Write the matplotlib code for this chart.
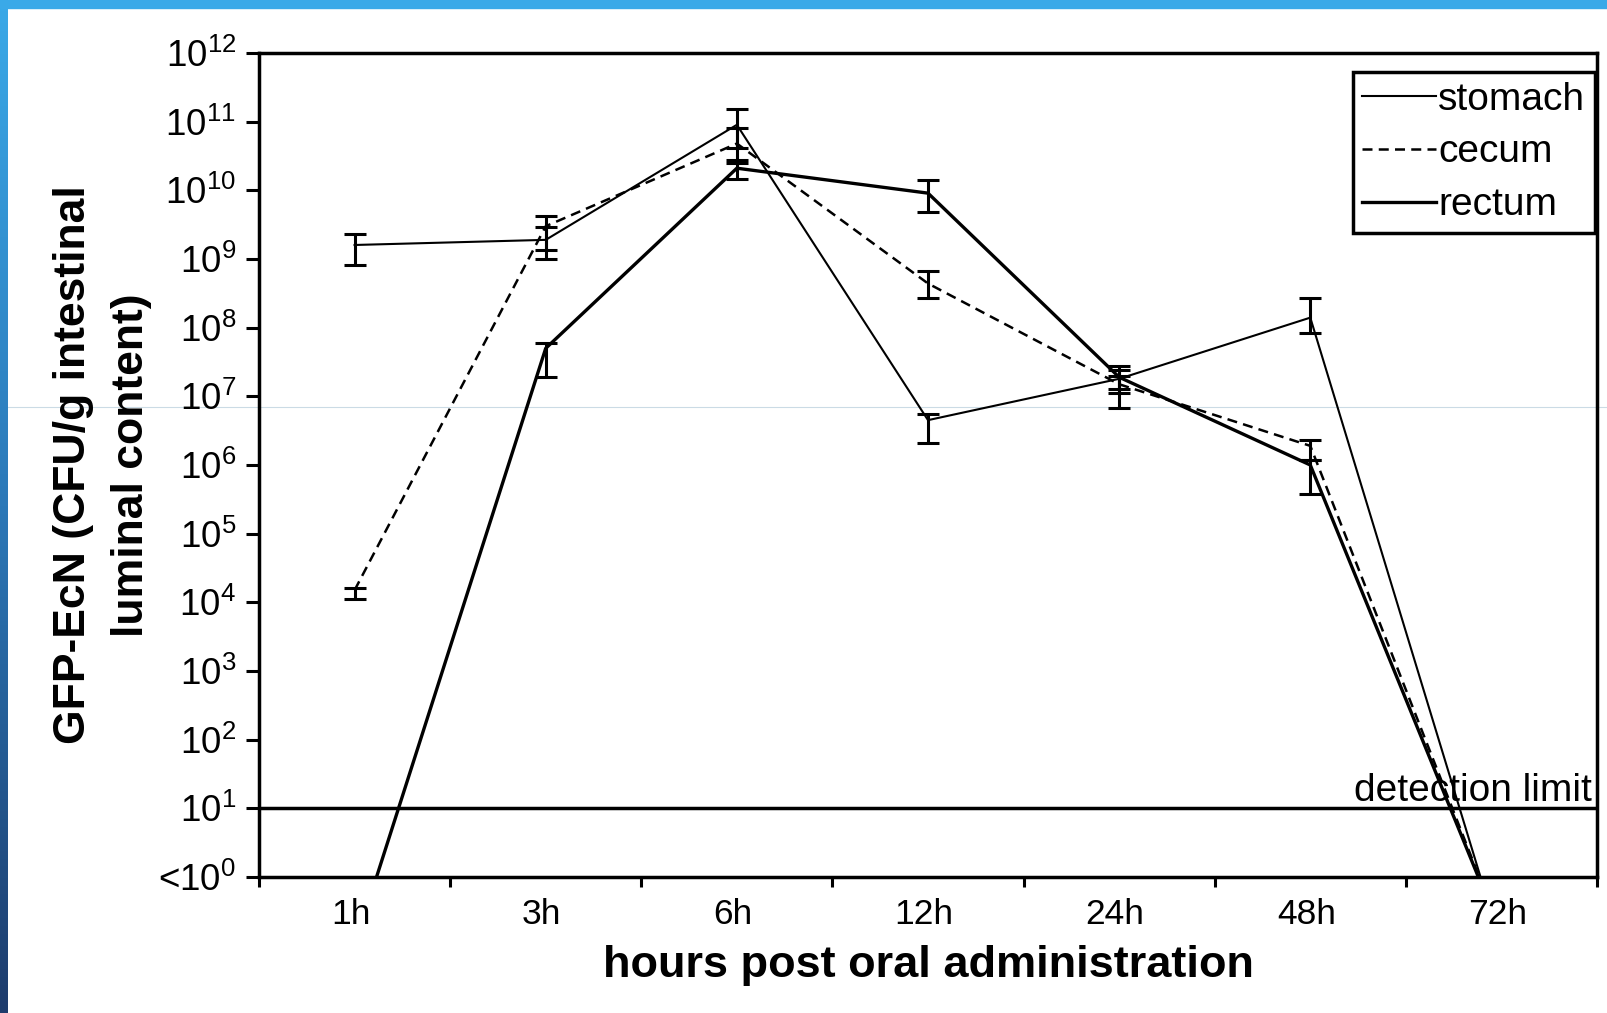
import numpy as np
import matplotlib
matplotlib.use("Agg")
import matplotlib.pyplot as plt
import matplotlib.transforms as mtransforms
from matplotlib.lines import Line2D
from matplotlib.patches import Rectangle
from matplotlib.colors import LinearSegmentedColormap
from matplotlib.ticker import NullLocator

plt.rcParams["font.family"] = ["Liberation Sans", "DejaVu Sans"]
plt.rcParams["mathtext.fontset"] = "custom"
plt.rcParams["mathtext.rm"] = "Liberation Sans"

# data (CFU/g), values below 10^0 are "not detected"
hours = ["1h", "3h", "6h", "12h", "24h", "48h", "72h"]

stomach = [1.6e9, 1.9e9, 9.0e10, 4.5e6, 1.8e7, 1.4e8, 0.1]
stomach_lo = [8.2e8, 1.0e9, 4.1e10, 2.1e6, 1.1e7, 8.3e7, 0.1]
stomach_hi = [2.3e9, 2.9e9, 1.55e11, 5.5e6, 2.75e7, 2.7e8, 0.1]

cecum = [1.5e4, 3.0e9, 4.8e10, 4.4e8, 1.5e7, 1.9e6, 0.15]
cecum_lo = [1.1e4, 1.35e9, 2.5e10, 2.7e8, 6.7e6, 1.2e6, 0.15]
cecum_hi = [1.6e4, 4.2e9, 8.0e10, 6.6e8, 2.0e7, 2.3e6, 0.15]

rectum = [0.1, 5.0e7, 2.1e10, 9.1e9, 1.9e7, 1.0e6, 0.15]
rectum_lo = [0.1, 1.9e7, 1.45e10, 4.8e9, 1.3e7, 3.8e5, 0.15]
rectum_hi = [0.1, 6.0e7, 2.8e10, 1.4e10, 2.4e7, 1.2e6, 0.15]

y_exponents = list(range(13))
y_tick_labels = ["<$\\mathregular{10^{0}}$"] + [
    "$\\mathregular{10^{%d}}$" % e for e in y_exponents[1:]
]
detection_limit = 10

W, H = 1608, 1013
fig = plt.figure(figsize=(W / 100, H / 100), dpi=100)
fig.patch.set_facecolor("white")

# plot area in pixels: left 259, right 1597, top 53, bottom 877
ax = fig.add_axes([259 / W, 1 - 877 / H, 1338 / W, 824 / H])
ax.patch.set_visible(False)

x = np.arange(len(hours)) + 0.5

series = [
    ("stomach", stomach, stomach_lo, stomach_hi, "-", 1.5),
    ("cecum", cecum, cecum_lo, cecum_hi, (0, (4, 2.5)), 1.8),
    ("rectum", rectum, rectum_lo, rectum_hi, "-", 2.4),
]

handles = []
for name, vals, lo, hi, ls, lw in series:
    vals = np.array(vals)
    lo = np.array(lo)
    hi = np.array(hi)
    line, = ax.plot(x, vals, color="black", ls=ls, lw=lw, zorder=3)
    ax.errorbar(x, vals, yerr=[vals - lo, hi - vals], fmt="none",
                ecolor="black", elinewidth=2.2, capsize=8, capthick=2.2,
                zorder=4)
    handles.append(line)

ax.axhline(detection_limit, color="black", lw=2.5, zorder=2)
ax.annotate("detection limit", xy=(0.996, detection_limit),
            xycoords=("axes fraction", "data"), xytext=(0, 5),
            textcoords="offset points", ha="right", va="baseline",
            fontsize=28)

ax.set_yscale("log")
ax.set_ylim(1, 1e12)
ax.set_yticks([10.0 ** e for e in y_exponents])
ax.set_yticklabels(y_tick_labels)
ax.yaxis.set_minor_locator(NullLocator())

ax.set_xlim(0, len(hours))
ax.set_xticks(np.arange(len(hours) + 1))
ax.set_xticklabels([])
ax.set_xticks(x, minor=True)
ax.set_xticklabels(hours, minor=True)

ax.tick_params(axis="y", which="major", direction="out", length=9.5,
               width=2.2, labelsize=26.5, pad=7)
ax.tick_params(axis="x", which="major", direction="out", length=7,
               width=2.2)
ax.tick_params(axis="x", which="minor", length=0, labelsize=25.5, pad=15)

# excel puts the category labels a little left of centre
shift = mtransforms.ScaledTranslation(-4 / 100, 0, fig.dpi_scale_trans)
for lab in ax.get_xticklabels(minor=True):
    lab.set_transform(lab.get_transform() + shift)

for sp in ax.spines.values():
    sp.set_linewidth(2.5)
    sp.set_color("black")

ax.set_xlabel("hours post oral administration", fontsize=32.5,
              fontweight="bold", va="center")
ax.xaxis.set_label_coords(0.5, -0.108)
ax.set_ylabel("GFP-EcN (CFU/g intestinal\nluminal content)", fontsize=32,
              fontweight="bold", va="center", ma="center", linespacing=1.55)
ax.yaxis.set_label_coords(-0.117, 0.5)

leg = ax.legend(handles, ["stomach", "cecum", "rectum"], loc="upper right",
                bbox_to_anchor=(1595 / W, 1 - 72 / H),
                bbox_transform=fig.transFigure, borderaxespad=0,
                fontsize=28, fancybox=False, framealpha=1,
                edgecolor="black", handlelength=1.9, handletextpad=0.05,
                labelspacing=0.43, borderpad=0.25)
leg.get_frame().set_linewidth(2.5)

# faint screen line and the blue frame of the slide
fig.add_artist(Line2D([0, 1], [1 - 407 / H] * 2, transform=fig.transFigure,
                      color="#cbdbe5", lw=0.8, zorder=-1))
fig.add_artist(Rectangle((0, 1 - 8 / H), 1, 8 / H, transform=fig.transFigure,
                         color="#3aa9e8", zorder=10))
gax = fig.add_axes([0, 0, 8 / W, 1])
cmap = LinearSegmentedColormap.from_list("band", ["#1e3c6c", "#2b78b8", "#3aa9e8"])
gax.imshow(np.linspace(0, 1, 256).reshape(-1, 1), aspect="auto", cmap=cmap,
           origin="lower", extent=[0, 1, 0, 1])
gax.axis("off")

fig.savefig("out.png", dpi=100)
